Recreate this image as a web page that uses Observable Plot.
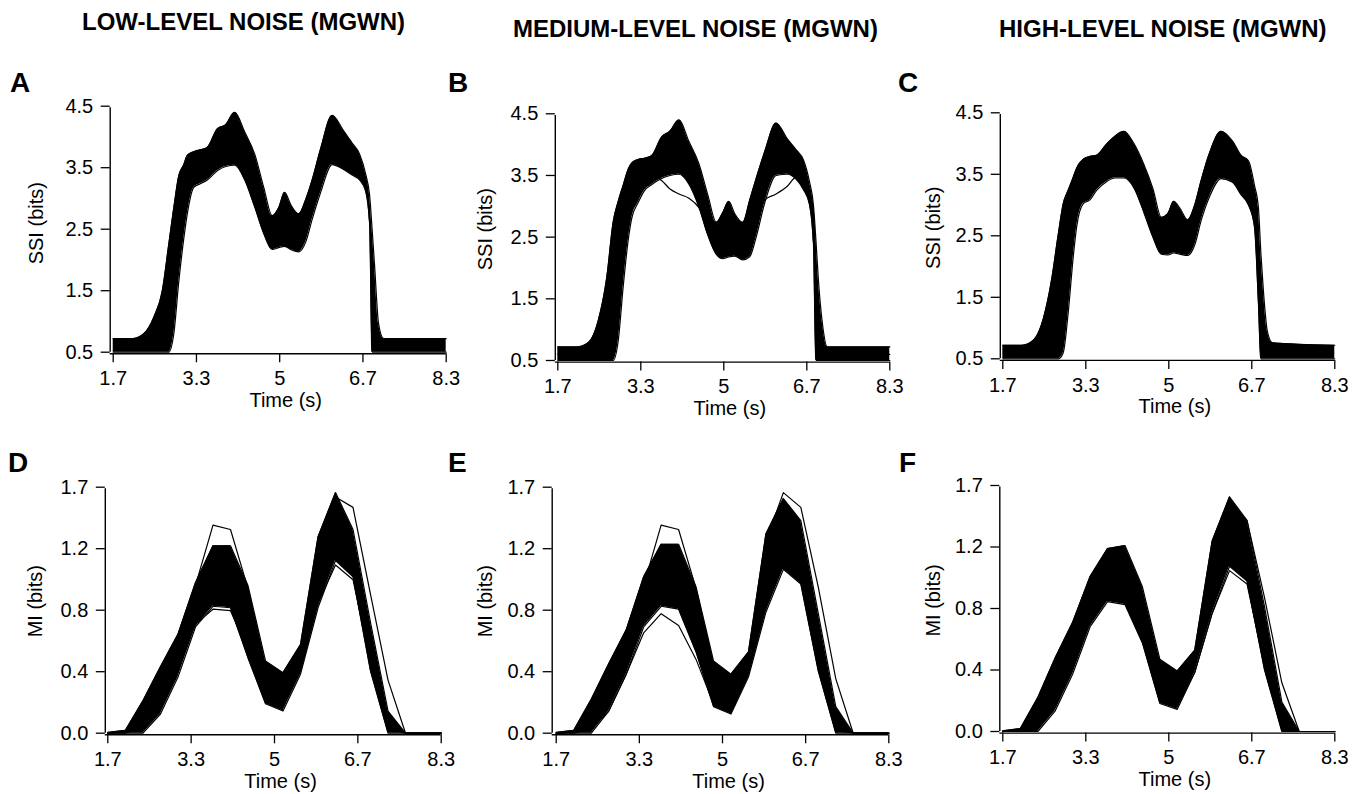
<!DOCTYPE html>
<html><head><meta charset="utf-8">
<script src="https://cdn.jsdelivr.net/npm/d3@7"></script>
<script src="https://cdn.jsdelivr.net/npm/@observablehq/plot@0.6"></script>
<style>
body{margin:0;background:#fff;}
#fig{position:relative;width:1366px;height:794px;overflow:hidden;background:#fff;font-family:"Liberation Sans",Arial,Helvetica,sans-serif;}
.title{position:absolute;font-weight:bold;font-size:24px;line-height:24px;white-space:nowrap;color:#000;}
.letter{position:absolute;font-weight:bold;font-size:28px;line-height:28px;color:#000;}
.panel{position:absolute;}
</style></head><body><div id="fig"></div>
<script>
// ---------- data ----------
const titles = ["LOW-LEVEL NOISE (MGWN)", "MEDIUM-LEVEL NOISE (MGWN)", "HIGH-LEVEL NOISE (MGWN)"];
const letters = ["A", "B", "C", "D", "E", "F"];
const xTicks = [5/3, 10/3, 5, 20/3, 25/3];
const xTickLabels = ["1.7", "3.3", "5", "6.7", "8.3"];
const ssiTicks = [0.5, 1.5, 2.5, 3.5, 4.5];
const ssiTickLabels = ["0.5", "1.5", "2.5", "3.5", "4.5"];
const miTicks = [0, 5/12, 5/6, 5/4, 5/3];
const miTickLabels = ["0.0", "0.4", "0.8", "1.2", "1.7"];

// SSI (smooth curves): time samples and ensemble envelopes
const ssiTime = [1.667, 2.05, 2.28, 2.48, 2.65, 2.78, 2.88, 2.98, 3.08, 3.15, 3.28, 3.41, 3.55, 3.75, 3.92, 4.1, 4.3, 4.5, 4.68, 4.85, 4.98, 5.1, 5.22, 5.38, 5.52, 5.65, 5.82, 6.05, 6.28, 6.45, 6.6, 6.72, 6.8, 6.85, 6.9, 6.98, 7.08, 8.333];
const aHi = [0.72,0.72,0.80,1.07,1.50,2.26,2.85,3.37,3.55,3.70,3.76,3.79,3.83,4.13,4.20,4.40,4.08,3.72,3.18,2.72,2.85,3.10,2.90,2.75,2.98,3.30,3.81,4.35,4.10,3.90,3.72,3.40,3.05,2.50,1.90,0.96,0.72,0.72];
const aLo = [0.5,0.5,0.5,0.5,0.5,0.5,0.8,1.65,2.35,2.75,3.18,3.24,3.30,3.45,3.52,3.54,3.30,2.86,2.43,2.17,2.20,2.22,2.17,2.13,2.29,2.66,3.10,3.55,3.47,3.38,3.30,3.12,2.60,0.5,0.5,0.5,0.5,0.5];
const bHi = [0.72,0.72,0.79,1.15,1.85,2.75,3.08,3.34,3.60,3.70,3.76,3.78,3.82,4.12,4.22,4.40,4.05,3.69,3.18,2.74,2.90,3.08,2.88,2.74,3.10,3.45,3.88,4.35,4.09,3.92,3.75,3.40,3.02,2.45,1.80,1.10,0.72,0.72];
const bLo = [0.5,0.5,0.5,0.5,0.5,0.5,0.82,1.70,2.45,2.80,3.06,3.26,3.35,3.45,3.50,3.52,3.36,2.99,2.53,2.22,2.15,2.18,2.19,2.13,2.18,2.50,3.05,3.50,3.52,3.44,3.27,3.03,2.40,0.5,0.5,0.5,0.5,0.5];
const bOutlier = [0.6,0.6,0.62,0.8,1.3,2.0,2.6,3.0,3.2,3.28,3.38,3.45,3.5,3.42,3.28,3.2,3.13,2.98,2.7,2.45,2.45,2.6,2.5,2.42,2.6,2.9,3.1,3.2,3.33,3.47,3.45,3.25,2.9,2.0,1.2,0.7,0.6,0.6];
const cHi = [0.72,0.72,0.80,1.15,1.80,2.52,3.02,3.24,3.45,3.60,3.74,3.79,3.81,3.99,4.12,4.20,4.00,3.66,3.27,2.80,2.86,3.06,2.95,2.76,3.00,3.40,3.85,4.20,4.04,3.81,3.72,3.32,2.95,2.20,1.60,0.94,0.76,0.72];
const cLo = [0.5,0.5,0.5,0.5,0.5,0.5,0.6,1.25,2.15,2.65,3.02,3.08,3.24,3.38,3.44,3.44,3.28,2.88,2.48,2.20,2.19,2.22,2.20,2.18,2.35,2.75,3.14,3.43,3.37,3.17,3.00,2.65,1.40,0.5,0.5,0.5,0.5,0.5];

// MI (piecewise linear): time samples and ensemble envelopes / outlying traces
const miTime = [1.667, 2.02, 2.37, 2.72, 3.07, 3.42, 3.77, 4.12, 4.47, 4.82, 5.17, 5.52, 5.87, 6.22, 6.57, 6.92, 7.27, 7.62, 7.97, 8.333];
const dHi = [0.005,0.02,0.22,0.45,0.67,1.02,1.27,1.27,1.00,0.49,0.41,0.60,1.33,1.63,1.38,0.75,0.15,0,0,0];
const dLo = [0,0,0,0.13,0.38,0.72,0.86,0.85,0.51,0.20,0.15,0.40,0.85,1.17,1.06,0.42,0,0,0,0];
const dOut1 = [0,0.01,0.20,0.44,0.66,1.00,1.41,1.38,0.98,0.45,0.36,0.50,1.20,1.50,1.30,0.70,0.10,0,0,0];
const dOut2 = [0,0.01,0.18,0.42,0.65,0.98,1.15,1.12,0.90,0.42,0.30,0.48,1.28,1.60,1.53,0.94,0.36,0,0,0];
const dOut3 = [0,0,0.04,0.20,0.45,0.74,0.84,0.83,0.56,0.22,0.18,0.42,0.88,1.14,1.04,0.48,0.03,0,0,0];
const eHi = [0.005,0.02,0.23,0.47,0.70,1.06,1.28,1.28,0.99,0.49,0.40,0.55,1.35,1.59,1.44,0.81,0.18,0,0,0];
const eLo = [0,0,0,0.15,0.40,0.72,0.86,0.84,0.55,0.18,0.13,0.38,0.82,1.11,1.01,0.42,0,0,0,0];
const eOut1 = [0,0.01,0.20,0.44,0.66,1.00,1.41,1.38,0.98,0.46,0.37,0.50,1.20,1.50,1.30,0.70,0.10,0,0,0];
const eOut2 = [0,0.01,0.18,0.42,0.65,0.98,1.12,1.10,0.88,0.42,0.30,0.48,1.30,1.63,1.53,0.99,0.37,0,0,0];
const eOut3 = [0,0,0.03,0.15,0.40,0.68,0.81,0.73,0.50,0.20,0.14,0.40,0.85,1.15,1.05,0.45,0.02,0,0,0];
const fHi = [0.005,0.02,0.23,0.50,0.74,1.05,1.24,1.26,0.98,0.49,0.41,0.55,1.29,1.59,1.43,0.85,0.20,0,0,0];
const fLo = [0,0,0,0.14,0.39,0.71,0.88,0.86,0.60,0.19,0.15,0.40,0.80,1.12,1.02,0.42,0,0,0,0];
const fOut1 = [0,0.01,0.20,0.46,0.70,1.00,1.20,1.22,0.92,0.45,0.32,0.50,1.25,1.55,1.43,0.91,0.33,0,0,0];
const fOut2 = [0,0,0.03,0.20,0.45,0.75,0.90,0.88,0.62,0.22,0.17,0.40,0.80,1.09,1.00,0.45,0.02,0,0,0];

// ---------- layout ----------
const FONT = '"Liberation Sans", Arial, Helvetica, sans-serif';
const fig = document.getElementById("fig");

const panels = [
  {box:[0,50,455,390], x0:112.7, x1:445.7, yT:105.7, yB:351.7, kind:"ssi", time:ssiTime, hi:aHi, lo:aLo, extra:[], ox:-3, ylab:[-77, -6]},
  {box:[455,50,445,390], x0:557.3, x1:889.3, yT:113.3, yB:360, kind:"ssi", time:ssiTime, hi:bHi, lo:bLo, extra:[bOutlier], ox:-2.5, ylab:[-72, -8]},
  {box:[900,50,466,390], x0:1002.3, x1:1334.3, yT:112.3, yB:358.3, kind:"ssi", time:ssiTime, hi:cHi, lo:cLo, extra:[], ox:-2.5, ylab:[-69, -8]},
  {box:[0,440,455,354], x0:107.3, x1:440.7, yT:486.7, yB:732.7, kind:"mi", time:miTime, hi:dHi, lo:dLo, extra:[dOut1,dOut2,dOut3], ox:-2.5, ylab:[-72, -9]},
  {box:[455,440,445,354], x0:555.7, x1:888.3, yT:486.7, yB:732.7, kind:"mi", time:miTime, hi:eHi, lo:eLo, extra:[eOut1,eOut2,eOut3], ox:-4, ylab:[-71, -9]},
  {box:[900,440,466,354], x0:1002.3, x1:1334.3, yT:485, yB:731, kind:"mi", time:miTime, hi:fHi, lo:fLo, extra:[fOut1,fOut2], ox:-3, ylab:[-69, -8]}
];

function labelOf(ticks, labels) {
  return d => { const i = ticks.findIndex(v => Math.abs(v - d) < 1e-6); return i >= 0 ? labels[i] : ""; };
}

panels.forEach((p) => {
  const [left, top, width, height] = p.box;
  const ssi = p.kind === "ssi";
  const yTicks = ssi ? ssiTicks : miTicks;
  const yLabels = ssi ? ssiTickLabels : miTickLabels;
  const yDomain = [yTicks[0], yTicks[yTicks.length - 1]];
  const xDomain = [xTicks[0], xTicks[xTicks.length - 1]];
  const curve = ssi ? "monotone-x" : "linear";
  const rows = p.time.map((t, i) => ({t, hi: p.hi[i], lo: p.lo[i]}));
  const lineOpts = {x: "t", stroke: "black", strokeWidth: 1.2, curve};
  const marks = [
    Plot.areaY(rows, {x: "t", y1: "lo", y2: "hi", fill: "black", curve}),
    Plot.line(rows, {...lineOpts, y: "hi"}),
    Plot.line(rows, {...lineOpts, y: "lo"}),
    ...p.extra.map(arr => Plot.line(p.time.map((t, i) => ({t, v: arr[i]})), {...lineOpts, y: "v"})),
    Plot.ruleX([xDomain[0]], {y1: yDomain[0], y2: yDomain[1], dx: p.ox, insetBottom: -1.6, stroke: "black", strokeWidth: 1.4}),
    Plot.ruleY([yDomain[0]], {x1: xDomain[0], x2: xDomain[1], dy: 1.6, insetLeft: p.ox, stroke: "black", strokeWidth: 1.4}),
    Plot.axisX({ticks: xTicks, tickFormat: labelOf(xTicks, xTickLabels), tickSize: 9, tickPadding: 8, dy: 1.6, label: null, strokeWidth: 1.3, fontSize: 20}),
    Plot.axisY({ticks: yTicks, tickFormat: labelOf(yTicks, yLabels), tickSize: 9, tickPadding: 8, dx: p.ox, label: null, strokeWidth: 1.3, fontSize: 20}),
    Plot.text(["Time (s)"], {text: d => d, frameAnchor: "bottom", textAnchor: "middle", lineAnchor: "middle", dx: 6, dy: 48, fontSize: 20}),
    Plot.text([ssi ? "SSI (bits)" : "MI (bits)"], {text: d => d, frameAnchor: "left", textAnchor: "middle", lineAnchor: "middle", rotate: -90, dx: p.ylab[0], dy: p.ylab[1], fontSize: 20})
  ];
  const chart = Plot.plot({
    width, height,
    marginLeft: p.x0 - left,
    marginRight: left + width - p.x1,
    marginTop: p.yT - top,
    marginBottom: top + height - p.yB,
    x: {domain: xDomain},
    y: {domain: yDomain},
    style: {background: "transparent", overflow: "visible", fontSize: "20px", fontFamily: FONT, color: "black"},
    marks
  });
  chart.classList.add("panel");
  chart.style.left = left + "px";
  chart.style.top = top + "px";
  fig.appendChild(chart);
});

// titles and panel letters
const titlePos = [[82, 9.7], [513, 16.7], [999, 16.7]];
titles.forEach((t, i) => {
  const d = document.createElement("div");
  d.className = "title"; d.textContent = t;
  d.style.left = titlePos[i][0] + "px"; d.style.top = titlePos[i][1] + "px";
  fig.appendChild(d);
});
const letterPos = [[10, 69.3], [448, 69.3], [898, 69.3], [8, 449.3], [448, 449.3], [899, 449.3]];
letters.forEach((t, i) => {
  const d = document.createElement("div");
  d.className = "letter"; d.textContent = t;
  d.style.left = letterPos[i][0] + "px"; d.style.top = letterPos[i][1] + "px";
  fig.appendChild(d);
});
</script></body></html>
